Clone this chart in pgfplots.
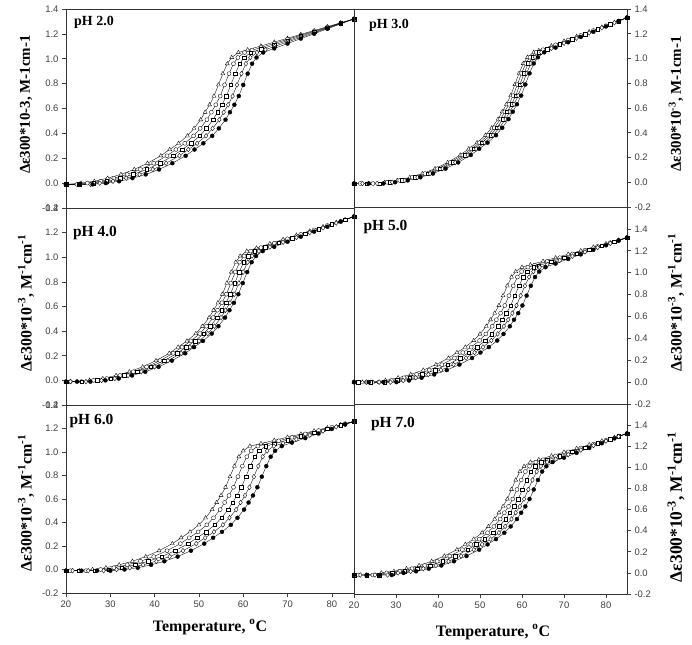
\documentclass[border=0pt]{standalone}
\usepackage{pgfplots}
\pgfplotsset{compat=1.18}
\usepackage{fontspec}
\setmainfont{Liberation Serif}
\newfontfamily\arial{Liberation Sans}
\newcommand\tickfont{\arial\fontsize{9.5}{10}\selectfont}
\newcommand\labfont{\bfseries\fontsize{15}{16}\selectfont}
\newcommand\labfontb{\bfseries\fontsize{16}{17}\selectfont}
\newcommand\labfontc{\bfseries\fontsize{17.5}{18}\selectfont}
\newcommand\tempfont{\bfseries\fontsize{16}{17}\selectfont}
\newcommand\phfont{\bfseries\fontsize{14}{15}\selectfont}
\newcommand\phbig{\bfseries\fontsize{15.5}{16}\selectfont}
\pgfplotsset{
  panel/.style={scale only axis, xmin=20, xmax=85, ymin=-0.2, clip=false,
    axis line style={black!80, line width=0.7pt},
    tick style={black!75, line width=0.6pt}, major tick length=4bp, tick align=outside,
    ytick={-0.2,0,0.2,0.4,0.6,0.8,1.0,1.2,1.4},
    yticklabels={-0.2,0.0,0.2,0.4,0.6,0.8,1.0,1.2,1.4},
    tick label style={font=\tickfont, text=black!75},
    xtick=\empty},
  bottom/.style={xtick={20,30,40,50,60,70,80}, xticklabels={20,30,40,50,60,70,80}, xtick pos=bottom},
  leftp/.style={ytick pos=left, width=288bp},
  rightp/.style={ytick pos=right, yticklabel pos=right, width=273bp},
  sbase/.style={black, line width=0.35pt, mark options={solid, line width=0.45pt}},
  sA/.style={sbase, mark=triangle*, mark size=2.3pt, mark options={fill=white}},
  sB/.style={sbase, mark=*, mark size=2.0pt, mark options={fill=white}},
  sC/.style={sbase, mark=square*, mark size=1.8pt, mark options={fill=white}},
  sD/.style={sbase, mark=diamond*, mark size=2.4pt, mark options={fill=white}},
  sE/.style={sbase, mark=*, mark size=2.0pt, mark options={fill=black}},
}
\begin{document}
\begin{tikzpicture}
\path[use as bounding box] (0,0) rectangle (692bp,645bp);
% ---------------- pH 2.0 (top left)
\begin{axis}[panel, leftp, at={(66bp,437bp)}, anchor=south west, height=199bp, ymax=1.4]
\addplot[sA] coordinates {(20,-0.01) (23.4,0.00) (26.4,0.015) (29.4,0.04) (32.4,0.07) (35.4,0.11) (38.4,0.16) (41.4,0.22) (43.4,0.27) (45.4,0.32) (47.4,0.38) (48.9,0.44) (50.4,0.51) (51.4,0.57) (52.4,0.63) (53.4,0.70) (54.4,0.79) (55.4,0.88) (56.4,0.96) (57.4,1.01) (58.9,1.05) (61,1.072) (64,1.103) (67,1.134) (70,1.165) (73,1.196) (76,1.227) (79,1.258) (82,1.289) (85,1.32)};
\addplot[sB] coordinates {(20,-0.01) (22.5,-0.01) (24.8,0.00) (27.8,0.015) (30.8,0.04) (33.8,0.07) (36.8,0.11) (39.8,0.16) (42.8,0.22) (44.8,0.27) (46.8,0.32) (48.8,0.38) (50.3,0.44) (51.8,0.51) (52.8,0.57) (53.8,0.63) (54.8,0.70) (55.8,0.79) (56.8,0.88) (57.8,0.96) (58.8,1.01) (60.3,1.05) (62,1.069) (64,1.090) (67,1.123) (70,1.156) (73,1.189) (76,1.222) (79,1.254) (82,1.287) (85,1.32)};
\addplot[sC] coordinates {(20,-0.01) (23,-0.01) (26.2,0.00) (29.2,0.015) (32.2,0.04) (35.2,0.07) (38.2,0.11) (41.2,0.16) (44.2,0.22) (46.2,0.27) (48.2,0.32) (50.2,0.38) (51.7,0.44) (53.2,0.51) (54.2,0.57) (55.2,0.63) (56.2,0.70) (57.2,0.79) (58.2,0.88) (59.2,0.96) (60.2,1.01) (61.7,1.05) (64,1.077) (67,1.111) (70,1.146) (73,1.181) (76,1.216) (79,1.250) (82,1.285) (85,1.32)};
\addplot[sD] coordinates {(20,-0.01) (23,-0.01) (25.5,-0.01) (27.6,0.00) (30.6,0.015) (33.6,0.04) (36.6,0.07) (39.6,0.11) (42.6,0.16) (45.6,0.22) (47.6,0.27) (49.6,0.32) (51.6,0.38) (53.1,0.44) (54.6,0.51) (55.6,0.57) (56.6,0.63) (57.6,0.70) (58.6,0.79) (59.6,0.88) (60.6,0.96) (61.6,1.01) (63.1,1.05) (65,1.073) (67,1.098) (70,1.135) (73,1.172) (76,1.209) (79,1.246) (82,1.283) (85,1.32)};
\addplot[sE] coordinates {(20,-0.01) (23,-0.01) (26,-0.01) (29,0.00) (32,0.015) (35,0.04) (38,0.07) (41,0.11) (44,0.16) (47,0.22) (49,0.27) (51,0.32) (53,0.38) (54.5,0.44) (56,0.51) (57,0.57) (58,0.63) (59,0.70) (60,0.79) (61,0.88) (62,0.96) (63,1.01) (64.5,1.05) (67,1.083) (70,1.122) (73,1.162) (76,1.201) (79,1.241) (82,1.280) (85,1.32)};
\end{axis}
% ---------------- pH 3.0 (top right)
\begin{axis}[panel, rightp, at={(354bp,438bp)}, anchor=south west, height=198bp, ymax=1.4]
\addplot[sA] coordinates {(20,-0.01) (23.5,-0.01) (27.3,0.00) (30.3,0.015) (33.3,0.04) (36.3,0.07) (39.3,0.11) (42.3,0.16) (45.3,0.22) (47.3,0.27) (49.3,0.32) (51.3,0.38) (52.8,0.44) (54.3,0.51) (55.3,0.57) (56.3,0.63) (57.3,0.70) (58.3,0.79) (59.3,0.88) (60.3,0.96) (61.3,1.01) (62.8,1.05) (64,1.065) (67,1.103) (70,1.141) (73,1.179) (76,1.216) (79,1.254) (82,1.292) (85,1.33)};
\addplot[sB] coordinates {(21.5,-0.01) (24.5,-0.01) (27.9,0.00) (30.9,0.015) (33.9,0.04) (36.9,0.07) (39.9,0.11) (42.9,0.16) (45.9,0.22) (47.9,0.27) (49.9,0.32) (51.9,0.38) (53.4,0.44) (54.9,0.51) (55.9,0.57) (56.9,0.63) (57.9,0.70) (58.9,0.79) (59.9,0.88) (60.9,0.96) (61.9,1.01) (63.4,1.05) (65,1.071) (68,1.110) (71,1.149) (74,1.187) (77,1.226) (80,1.265) (83,1.304) (85,1.33)};
\addplot[sC] coordinates {(20,-0.01) (23,-0.01) (26,-0.01) (28.5,0.00) (31.5,0.015) (34.5,0.04) (37.5,0.07) (40.5,0.11) (43.5,0.16) (46.5,0.22) (48.5,0.27) (50.5,0.32) (52.5,0.38) (54,0.44) (55.5,0.51) (56.5,0.57) (57.5,0.63) (58.5,0.70) (59.5,0.79) (60.5,0.88) (61.5,0.96) (62.5,1.01) (64,1.05) (66,1.077) (69,1.117) (72,1.157) (75,1.197) (78,1.237) (81,1.277) (83,1.303) (85,1.33)};
\addplot[sD] coordinates {(22,-0.01) (25.5,-0.01) (29.1,0.00) (32.1,0.015) (35.1,0.04) (38.1,0.07) (41.1,0.11) (44.1,0.16) (47.1,0.22) (49.1,0.27) (51.1,0.32) (53.1,0.38) (54.6,0.44) (56.1,0.51) (57.1,0.57) (58.1,0.63) (59.1,0.70) (60.1,0.79) (61.1,0.88) (62.1,0.96) (63.1,1.01) (64.6,1.05) (67,1.083) (70,1.124) (73,1.165) (76,1.207) (79,1.248) (82,1.289) (85,1.33)};
\addplot[sE] coordinates {(20,-0.01) (23.5,-0.01) (27,-0.01) (29.8,0.00) (32.8,0.015) (35.8,0.04) (38.8,0.07) (41.8,0.11) (44.8,0.16) (47.8,0.22) (49.8,0.27) (51.8,0.32) (53.8,0.38) (55.3,0.44) (56.8,0.51) (57.8,0.57) (58.8,0.63) (59.8,0.70) (60.8,0.79) (61.8,0.88) (62.8,0.96) (63.8,1.01) (65.3,1.05) (68,1.088) (71,1.131) (74,1.174) (77,1.216) (80,1.259) (83,1.302) (85,1.33)};
\end{axis}
% ---------------- pH 4.0 (middle left)
\begin{axis}[panel, leftp, at={(66bp,240bp)}, anchor=south west, height=197bp, ymax=1.4]
\addplot[sA] coordinates {(20,-0.01) (22.5,-0.01) (25.3,0.00) (28.3,0.015) (31.3,0.04) (34.3,0.07) (37.3,0.11) (40.3,0.16) (43.3,0.22) (45.3,0.27) (47.3,0.32) (49.3,0.38) (50.8,0.44) (52.3,0.51) (53.3,0.57) (54.3,0.63) (55.3,0.70) (56.3,0.79) (57.3,0.88) (58.3,0.96) (59.3,1.01) (60.8,1.05) (63,1.075) (66,1.110) (69,1.145) (72,1.180) (75,1.214) (78,1.249) (81,1.284) (83,1.307) (85,1.33)};
\addplot[sB] coordinates {(21,-0.01) (23.5,-0.01) (26.2,0.00) (29.2,0.015) (32.2,0.04) (35.2,0.07) (38.2,0.11) (41.2,0.16) (44.2,0.22) (46.2,0.27) (48.2,0.32) (50.2,0.38) (51.7,0.44) (53.2,0.51) (54.2,0.57) (55.2,0.63) (56.2,0.70) (57.2,0.79) (58.2,0.88) (59.2,0.96) (60.2,1.01) (61.7,1.05) (64,1.078) (67,1.114) (70,1.150) (73,1.186) (76,1.222) (79,1.258) (82,1.294) (85,1.33)};
\addplot[sC] coordinates {(20,-0.01) (23.5,-0.01) (27.1,0.00) (30.1,0.015) (33.1,0.04) (36.1,0.07) (39.1,0.11) (42.1,0.16) (45.1,0.22) (47.1,0.27) (49.1,0.32) (51.1,0.38) (52.6,0.44) (54.1,0.51) (55.1,0.57) (56.1,0.63) (57.1,0.70) (58.1,0.79) (59.1,0.88) (60.1,0.96) (61.1,1.01) (62.6,1.05) (65,1.080) (68,1.118) (71,1.155) (74,1.193) (77,1.230) (80,1.268) (83,1.305) (85,1.33)};
\addplot[sD] coordinates {(21,-0.01) (24.5,-0.01) (28,0.00) (31,0.015) (34,0.04) (37,0.07) (40,0.11) (43,0.16) (46,0.22) (48,0.27) (50,0.32) (52,0.38) (53.5,0.44) (55,0.51) (56,0.57) (57,0.63) (58,0.70) (59,0.79) (60,0.88) (61,0.96) (62,1.01) (63.5,1.05) (66,1.083) (69,1.122) (72,1.161) (75,1.200) (78,1.239) (81,1.278) (85,1.33)};
\addplot[sE] coordinates {(20,-0.01) (22.5,-0.01) (25.5,-0.01) (28.9,0.00) (31.9,0.015) (34.9,0.04) (37.9,0.07) (40.9,0.11) (43.9,0.16) (46.9,0.22) (48.9,0.27) (50.9,0.32) (52.9,0.38) (54.4,0.44) (55.9,0.51) (56.9,0.57) (57.9,0.63) (58.9,0.70) (59.9,0.79) (60.9,0.88) (61.9,0.96) (62.9,1.01) (64.4,1.05) (67,1.085) (70,1.126) (73,1.167) (76,1.208) (79,1.248) (82,1.289) (85,1.33)};
\end{axis}
% ---------------- pH 5.0 (middle right)
\begin{axis}[panel, rightp, at={(354bp,241bp)}, anchor=south west, height=197bp, ymax=1.6]
\addplot[sA] coordinates {(20,0.00) (22,0.00) (24.5,0.00) (27.5,0.015) (30.5,0.04) (33.5,0.07) (36.5,0.11) (39.5,0.16) (42.5,0.22) (44.5,0.27) (46.5,0.32) (48.5,0.38) (50,0.44) (51.5,0.51) (52.5,0.57) (53.5,0.63) (54.5,0.70) (55.5,0.79) (56.5,0.88) (57.5,0.96) (58.5,1.01) (60,1.05) (62,1.072) (65,1.104) (68,1.136) (71,1.169) (74,1.201) (77,1.234) (80,1.266) (83,1.298) (85,1.32)};
\addplot[sB] coordinates {(20,0.00) (23,0.00) (25.9,0.00) (28.9,0.015) (31.9,0.04) (34.9,0.07) (37.9,0.11) (40.9,0.16) (43.9,0.22) (45.9,0.27) (47.9,0.32) (49.9,0.38) (51.4,0.44) (52.9,0.51) (53.9,0.57) (54.9,0.63) (55.9,0.70) (56.9,0.79) (57.9,0.88) (58.9,0.96) (59.9,1.01) (61.4,1.05) (63,1.068) (66,1.103) (69,1.137) (72,1.171) (75,1.206) (78,1.240) (81,1.274) (83,1.297) (85,1.32)};
\addplot[sC] coordinates {(21,0.00) (24,0.00) (27.3,0.00) (30.3,0.015) (33.3,0.04) (36.3,0.07) (39.3,0.11) (42.3,0.16) (45.3,0.22) (47.3,0.27) (49.3,0.32) (51.3,0.38) (52.8,0.44) (54.3,0.51) (55.3,0.57) (56.3,0.63) (57.3,0.70) (58.3,0.79) (59.3,0.88) (60.3,0.96) (61.3,1.01) (62.8,1.05) (64,1.065) (67,1.101) (70,1.138) (73,1.174) (76,1.211) (79,1.247) (82,1.283) (85,1.32)};
\addplot[sD] coordinates {(20,0.00) (23,0.00) (26,0.00) (28.7,0.00) (31.7,0.015) (34.7,0.04) (37.7,0.07) (40.7,0.11) (43.7,0.16) (46.7,0.22) (48.7,0.27) (50.7,0.32) (52.7,0.38) (54.2,0.44) (55.7,0.51) (56.7,0.57) (57.7,0.63) (58.7,0.70) (59.7,0.79) (60.7,0.88) (61.7,0.96) (62.7,1.01) (64.2,1.05) (66,1.073) (69,1.112) (72,1.151) (75,1.190) (78,1.229) (81,1.268) (83,1.294) (85,1.32)};
\addplot[sE] coordinates {(20,0.00) (23.5,0.00) (27,0.00) (30.1,0.00) (33.1,0.015) (36.1,0.04) (39.1,0.07) (42.1,0.11) (45.1,0.16) (48.1,0.22) (50.1,0.27) (52.1,0.32) (54.1,0.38) (55.6,0.44) (57.1,0.51) (58.1,0.57) (59.1,0.63) (60.1,0.70) (61.1,0.79) (62.1,0.88) (63.1,0.96) (64.1,1.01) (65.6,1.05) (68,1.083) (71,1.125) (74,1.167) (77,1.209) (80,1.250) (83,1.292) (85,1.32)};
\end{axis}
% ---------------- pH 6.0 (bottom left)
\begin{axis}[panel, leftp, bottom, at={(66bp,52bp)}, anchor=south west, height=188bp, ymax=1.4]
\addplot[sA] coordinates {(20,-0.01) (23,-0.01) (26,0.00) (29,0.015) (32,0.04) (35,0.07) (38,0.11) (41,0.16) (44,0.22) (46,0.27) (48,0.32) (50,0.38) (51.5,0.44) (53,0.51) (54,0.57) (55,0.63) (56,0.70) (57,0.79) (58,0.88) (59,0.96) (60,1.01) (61.5,1.05) (64,1.072) (67,1.099) (70,1.126) (73,1.153) (76,1.180) (79,1.206) (82,1.233) (85,1.26)};
\addplot[sB] coordinates {(21,-0.01) (24.5,-0.01) (27.8,0.00) (30.8,0.015) (33.8,0.04) (36.8,0.07) (39.8,0.11) (42.8,0.16) (45.8,0.22) (47.8,0.27) (49.8,0.32) (51.8,0.38) (53.3,0.44) (54.8,0.51) (55.8,0.57) (56.8,0.63) (57.8,0.70) (58.8,0.79) (59.8,0.88) (60.8,0.96) (61.8,1.01) (63.3,1.05) (65,1.066) (68,1.095) (71,1.125) (74,1.154) (77,1.183) (80,1.212) (83,1.241) (85,1.26)};
\addplot[sC] coordinates {(20,-0.01) (23,-0.01) (26.5,-0.01) (29.6,0.00) (32.6,0.015) (35.6,0.04) (38.6,0.07) (41.6,0.11) (44.6,0.16) (47.6,0.22) (49.6,0.27) (51.6,0.32) (53.6,0.38) (55.1,0.44) (56.6,0.51) (57.6,0.57) (58.6,0.63) (59.6,0.70) (60.6,0.79) (61.6,0.88) (62.6,0.96) (63.6,1.01) (65.1,1.05) (67,1.070) (70,1.102) (73,1.133) (76,1.165) (79,1.197) (82,1.228) (85,1.26)};
\addplot[sD] coordinates {(21.5,-0.01) (25,-0.01) (28.5,-0.01) (31.4,0.00) (34.4,0.015) (37.4,0.04) (40.4,0.07) (43.4,0.11) (46.4,0.16) (49.4,0.22) (51.4,0.27) (53.4,0.32) (55.4,0.38) (56.9,0.44) (58.4,0.51) (59.4,0.57) (60.4,0.63) (61.4,0.70) (62.4,0.79) (63.4,0.88) (64.4,0.96) (65.4,1.01) (66.9,1.05) (69,1.074) (72,1.109) (75,1.144) (78,1.179) (81,1.214) (83,1.237) (85,1.26)};
\addplot[sE] coordinates {(20,-0.01) (23.5,-0.01) (27,-0.01) (30,-0.01) (33.2,0.00) (36.2,0.015) (39.2,0.04) (42.2,0.07) (45.2,0.11) (48.2,0.16) (51.2,0.22) (53.2,0.27) (55.2,0.32) (57.2,0.38) (58.7,0.44) (60.2,0.51) (61.2,0.57) (62.2,0.63) (63.2,0.70) (64.2,0.79) (65.2,0.88) (66.2,0.96) (67.2,1.01) (68.7,1.05) (71,1.080) (74,1.118) (77,1.157) (80,1.196) (83,1.234) (85,1.26)};
\end{axis}
% ---------------- pH 7.0 (bottom right)
\begin{axis}[panel, rightp, bottom, at={(354bp,51bp)}, anchor=south west, height=190bp, ymax=1.6]
\addplot[sA] coordinates {(20,-0.02) (23,-0.02) (26.5,0.00) (29.5,0.015) (32.5,0.04) (35.5,0.07) (38.5,0.11) (41.5,0.16) (44.5,0.22) (46.5,0.27) (48.5,0.32) (50.5,0.38) (52,0.44) (53.5,0.51) (54.5,0.57) (55.5,0.63) (56.5,0.70) (57.5,0.79) (58.5,0.88) (59.5,0.96) (60.5,1.01) (62,1.05) (64,1.073) (67,1.109) (70,1.144) (73,1.179) (76,1.214) (79,1.250) (82,1.285) (85,1.32)};
\addplot[sB] coordinates {(21,-0.02) (24.5,-0.02) (27.8,0.00) (30.8,0.015) (33.8,0.04) (36.8,0.07) (39.8,0.11) (42.8,0.16) (45.8,0.22) (47.8,0.27) (49.8,0.32) (51.8,0.38) (53.3,0.44) (54.8,0.51) (55.8,0.57) (56.8,0.63) (57.8,0.70) (58.8,0.79) (59.8,0.88) (60.8,0.96) (61.8,1.01) (63.3,1.05) (65,1.071) (68,1.108) (71,1.146) (74,1.183) (77,1.220) (80,1.258) (83,1.295) (85,1.32)};
\addplot[sC] coordinates {(20,-0.02) (23,-0.02) (26,-0.02) (29.1,0.00) (32.1,0.015) (35.1,0.04) (38.1,0.07) (41.1,0.11) (44.1,0.16) (47.1,0.22) (49.1,0.27) (51.1,0.32) (53.1,0.38) (54.6,0.44) (56.1,0.51) (57.1,0.57) (58.1,0.63) (59.1,0.70) (60.1,0.79) (61.1,0.88) (62.1,0.96) (63.1,1.01) (64.6,1.05) (66,1.069) (69,1.108) (72,1.148) (75,1.188) (78,1.227) (81,1.267) (83,1.294) (85,1.32)};
\addplot[sD] coordinates {(21.5,-0.02) (25,-0.02) (28,-0.02) (30.5,0.00) (33.5,0.015) (36.5,0.04) (39.5,0.07) (42.5,0.11) (45.5,0.16) (48.5,0.22) (50.5,0.27) (52.5,0.32) (54.5,0.38) (56,0.44) (57.5,0.51) (58.5,0.57) (59.5,0.63) (60.5,0.70) (61.5,0.79) (62.5,0.88) (63.5,0.96) (64.5,1.01) (66,1.05) (68,1.078) (71,1.121) (74,1.164) (77,1.206) (80,1.249) (83,1.292) (85,1.32)};
\addplot[sE] coordinates {(20,-0.02) (23,-0.02) (26,-0.02) (29,-0.02) (31.8,0.00) (34.8,0.015) (37.8,0.04) (40.8,0.07) (43.8,0.11) (46.8,0.16) (49.8,0.22) (51.8,0.27) (53.8,0.32) (55.8,0.38) (57.3,0.44) (58.8,0.51) (59.8,0.57) (60.8,0.63) (61.8,0.70) (62.8,0.79) (63.8,0.88) (64.8,0.96) (65.8,1.01) (67.3,1.05) (70,1.091) (73,1.137) (76,1.183) (79,1.228) (82,1.274) (85,1.32)};
\end{axis}
% ---------------- labels
\node[rotate=90, font=\labfont] at (26bp,540.5bp) {Δε300*10-3, M-1cm-1};
\node[rotate=90, font=\labfontb] at (26bp,342bp) {Δε300*10\textsuperscript{-3}, M\textsuperscript{-1}cm\textsuperscript{-1}};
\node[rotate=90, font=\labfontb] at (26bp,142bp) {Δε300*10\textsuperscript{-3}, M\textsuperscript{-1}cm\textsuperscript{-1}};
\node[rotate=90, font=\labfont] at (676bp,541bp) {Δε300*10\textsuperscript{-3}, M-1cm-1};
\node[rotate=90, font=\labfontb] at (676bp,342.5bp) {Δε300*10\textsuperscript{-3}, M\textsuperscript{-1}cm\textsuperscript{-1}};
\node[rotate=90, font=\labfontc] at (676bp,138bp) {Δε300*10\textsuperscript{-3}, M\textsuperscript{-1}cm\textsuperscript{-1}};
\node[font=\tempfont] at (210bp,18bp) {Temperature, \textsuperscript{o}C};
\node[font=\tempfont] at (493bp,13bp) {Temperature, \textsuperscript{o}C};
\node[font=\phfont] at (94bp,622.5bp) {pH 2.0};
\node[font=\phfont] at (389bp,620bp) {pH 3.0};
\node[font=\phbig] at (95bp,412bp) {pH 4.0};
\node[font=\phbig] at (385.5bp,418bp) {pH 5.0};
\node[font=\phbig] at (91.5bp,224bp) {pH 6.0};
\node[font=\phbig] at (393bp,221bp) {pH 7.0};
\end{tikzpicture}
\end{document}
